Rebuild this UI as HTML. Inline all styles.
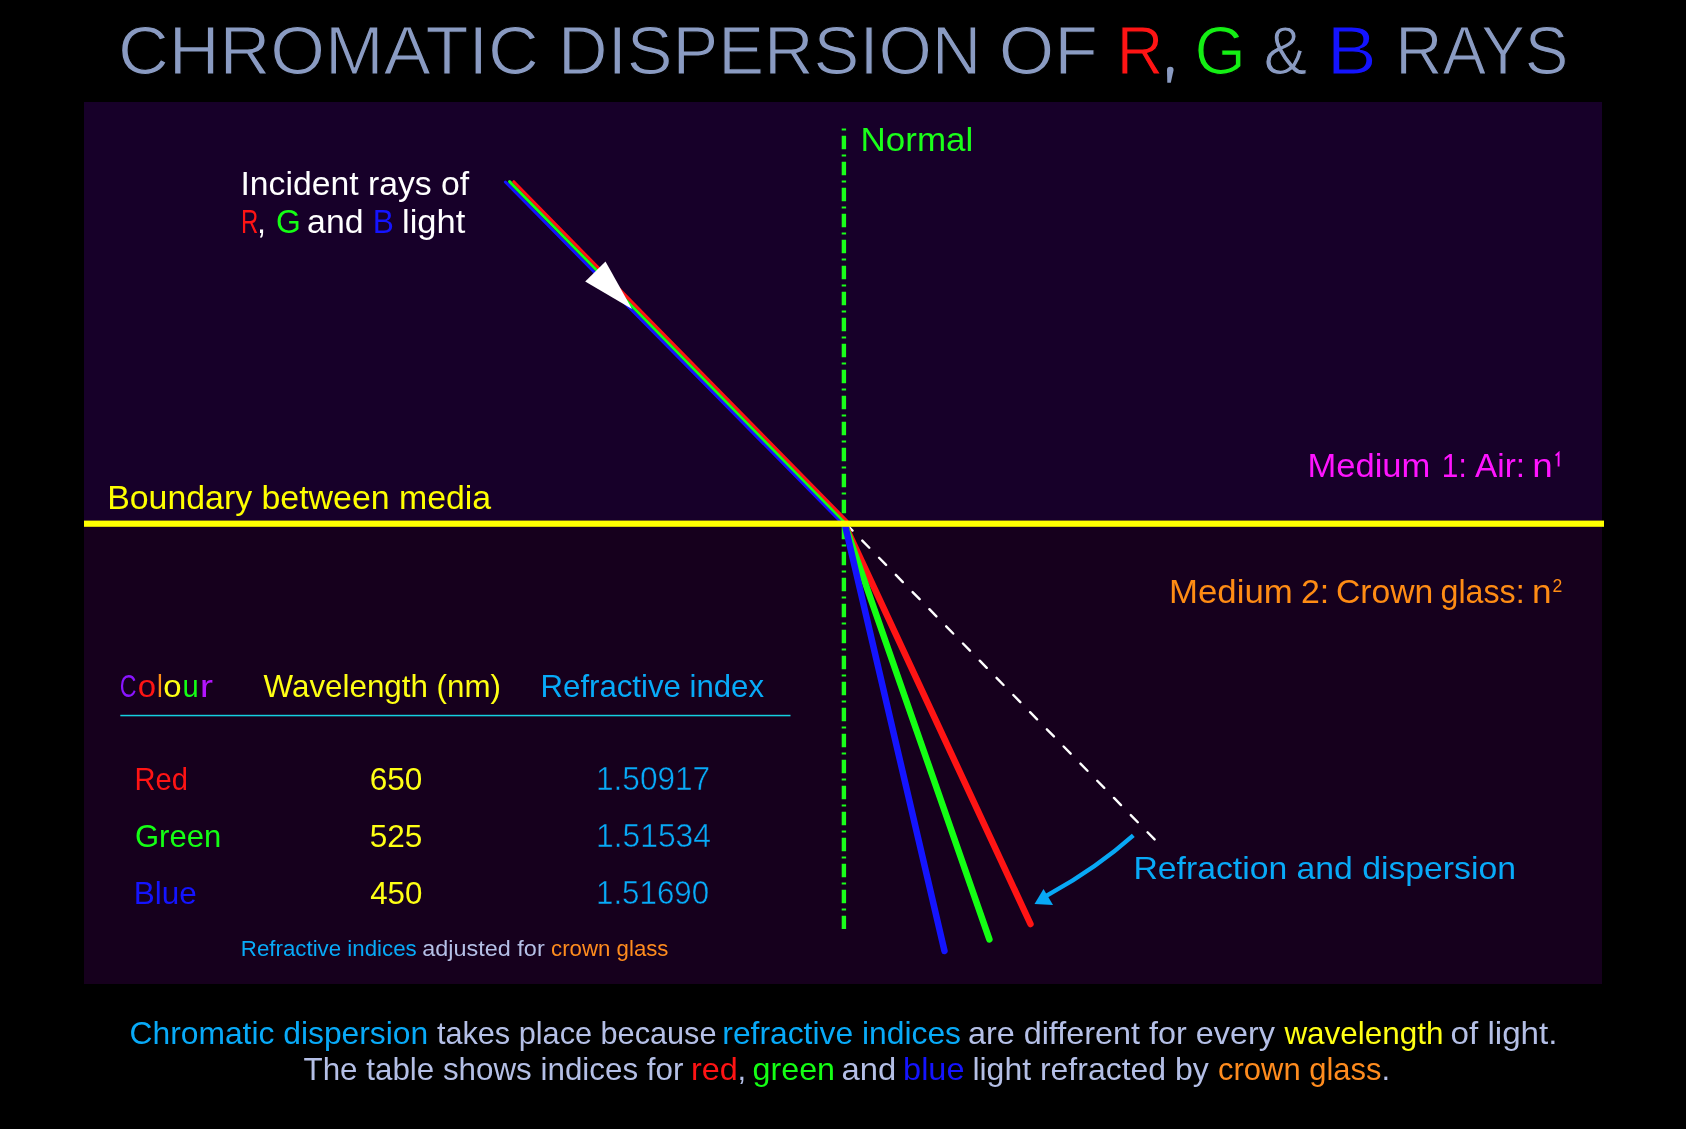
<!DOCTYPE html>
<html><head><meta charset="utf-8">
<style>
html,body{margin:0;padding:0;background:#000;width:1686px;height:1129px;overflow:hidden}
svg{display:block;will-change:transform;font-family:"Liberation Sans",sans-serif}
</style></head>
<body>
<svg width="1686" height="1129" viewBox="0 0 1686 1129">
<rect x="0" y="0" width="1686" height="1129" fill="#000"/>
<rect x="84" y="102" width="1518" height="422" fill="#170029"/>
<rect x="84" y="524" width="1518" height="460" fill="#16001d"/>
<line x1="843.9" y1="128.4" x2="843.9" y2="929" stroke="#1aff1a" stroke-width="4.4" stroke-dasharray="2 5.25 13.5 5.25"/>
<line x1="505.4" y1="182" x2="840" y2="521" stroke="#1414ff" stroke-width="3" stroke-linecap="round"/>
<line x1="509.6" y1="181.6" x2="843.5" y2="521" stroke="#14ff14" stroke-width="3" stroke-linecap="round"/>
<line x1="513.8" y1="181.7" x2="847" y2="521" stroke="#ff1414" stroke-width="3" stroke-linecap="round"/>
<polygon points="605.5,261.5 585.2,281.6 632,308.9" fill="#fff"/>
<line x1="849" y1="527" x2="1157.5" y2="842.4" stroke="#fff" stroke-width="2.4" stroke-linecap="round" stroke-dasharray="10 14" stroke-dashoffset="5"/>
<line x1="845" y1="525" x2="1030.5" y2="924" stroke="#ff1414" stroke-width="6.5" stroke-linecap="round"/>
<line x1="845" y1="525" x2="989.4" y2="939.4" stroke="#14ff14" stroke-width="6.5" stroke-linecap="round"/>
<line x1="845" y1="525" x2="944.5" y2="951" stroke="#1414ff" stroke-width="6.5" stroke-linecap="round"/>
<rect x="84" y="520.6" width="1520" height="6.2" fill="#ffff00"/>
<path d="M1133.3,835.3 C1107.7,858.1 1079.2,877.5 1049.3,894.2 L1045,896.6" fill="none" stroke="#08a8f5" stroke-width="4.3"/>
<polygon points="1034.5,904 1043.5,889 1053,905" fill="#08a8f5"/>
<rect x="120.3" y="714.8" width="670.2" height="1.5" fill="#14d0e0"/>
<path d="M1555.6,455.6 L1558.6,452.9 L1558.6,466.4" fill="none" stroke="#ff14ff" stroke-width="1.9" stroke-linejoin="miter"/>
<path d="M1167,70 A3.3,3.3 0 0 1 1173.6,70 L1170.8,82.8 L1167.3,82.8 Z" fill="#8a9bc2"/>

<text x="117.90" y="73.7" font-size="67.8" fill="#8a9bc2" textLength="420.90" lengthAdjust="spacingAndGlyphs" stroke="#000" stroke-width="1.2">CHROMATIC</text>
<text x="558.10" y="73.7" font-size="67.8" fill="#8a9bc2" textLength="423.30" lengthAdjust="spacingAndGlyphs" stroke="#000" stroke-width="1.2">DISPERSION</text>
<text x="998.70" y="73.7" font-size="67.8" fill="#8a9bc2" textLength="99.00" lengthAdjust="spacingAndGlyphs" stroke="#000" stroke-width="1.2">OF</text>
<text x="1116.60" y="73.7" font-size="67.8" fill="#ff1414" textLength="47.00" lengthAdjust="spacingAndGlyphs" stroke="#000" stroke-width="1.2">R</text>
<text x="1194.60" y="73.7" font-size="67.8" fill="#14f014" textLength="51.40" lengthAdjust="spacingAndGlyphs" stroke="#000" stroke-width="1.2">G</text>
<text x="1263.50" y="73.7" font-size="67.8" fill="#8a9bc2" textLength="43.70" lengthAdjust="spacingAndGlyphs" stroke="#000" stroke-width="1.2">&amp;</text>
<text x="1326.70" y="73.7" font-size="67.8" fill="#1414ff" textLength="50.00" lengthAdjust="spacingAndGlyphs" stroke="#000" stroke-width="1.2">B</text>
<text x="1395.20" y="73.7" font-size="67.8" fill="#8a9bc2" textLength="173.30" lengthAdjust="spacingAndGlyphs" stroke="#000" stroke-width="1.2">RAYS</text>
<text x="240.40" y="194.8" font-size="32.3" fill="#ffffff" textLength="228.80" lengthAdjust="spacingAndGlyphs">Incident rays of</text>
<text x="860.60" y="151.0" font-size="33" fill="#1aff1a" textLength="112.70" lengthAdjust="spacingAndGlyphs">Normal</text>
<text x="107.20" y="509.4" font-size="33" fill="#ffff00" textLength="384.00" lengthAdjust="spacingAndGlyphs">Boundary between media</text>
<text x="1552.50" y="592.3" font-size="18.6" fill="#ff8c14" textLength="9.80" lengthAdjust="spacingAndGlyphs">2</text>
<text x="263.60" y="697" font-size="31.5" fill="#ffff14" textLength="237.40" lengthAdjust="spacingAndGlyphs">Wavelength (nm)</text>
<text x="540.60" y="697" font-size="31.5" fill="#08aaf8" textLength="223.40" lengthAdjust="spacingAndGlyphs">Refractive index</text>
<text x="134.60" y="789.9" font-size="31.5" fill="#ff1414" textLength="53.40" lengthAdjust="spacingAndGlyphs">Red</text>
<text x="135.00" y="846.9" font-size="31.5" fill="#14ff14" textLength="86.20" lengthAdjust="spacingAndGlyphs">Green</text>
<text x="133.80" y="903.6" font-size="31.5" fill="#1414ff" textLength="63.00" lengthAdjust="spacingAndGlyphs">Blue</text>
<text x="369.80" y="789.9" font-size="31.5" fill="#ffff14" textLength="52.60" lengthAdjust="spacingAndGlyphs">650</text>
<text x="369.80" y="846.9" font-size="31.5" fill="#ffff14" textLength="52.60" lengthAdjust="spacingAndGlyphs">525</text>
<text x="370.20" y="903.6" font-size="31.5" fill="#ffff14" textLength="52.20" lengthAdjust="spacingAndGlyphs">450</text>
<text x="596.00" y="790.4" font-size="32.5" fill="#08aaf8" textLength="114.10" lengthAdjust="spacingAndGlyphs" stroke="#16001d" stroke-width="0.5">1.50917</text>
<text x="596.00" y="847.1" font-size="32.5" fill="#08aaf8" textLength="115.00" lengthAdjust="spacingAndGlyphs" stroke="#16001d" stroke-width="0.5">1.51534</text>
<text x="596.00" y="903.8" font-size="32.5" fill="#08aaf8" textLength="113.10" lengthAdjust="spacingAndGlyphs" stroke="#16001d" stroke-width="0.5">1.51690</text>
<text x="1133.40" y="879.4" font-size="32.2" fill="#08aaf8" textLength="382.60" lengthAdjust="spacingAndGlyphs">Refraction and dispersion</text>
<text x="129.50" y="1044.2" font-size="31.1" fill="#08aaf8" textLength="298.70" lengthAdjust="spacingAndGlyphs">Chromatic dispersion</text>
<text x="436.90" y="1044.2" font-size="31.1" fill="#b4bfe6" textLength="279.60" lengthAdjust="spacingAndGlyphs">takes place because</text>
<text x="722.30" y="1044.2" font-size="31.1" fill="#08aaf8" textLength="238.70" lengthAdjust="spacingAndGlyphs">refractive indices</text>
<text x="967.90" y="1044.2" font-size="31.1" fill="#b4bfe6" textLength="307.10" lengthAdjust="spacingAndGlyphs">are different for every</text>
<text x="1284.40" y="1044.2" font-size="31.1" fill="#ffff14" textLength="159.20" lengthAdjust="spacingAndGlyphs">wavelength</text>
<text x="1450.50" y="1044.2" font-size="31.1" fill="#b4bfe6" textLength="107.00" lengthAdjust="spacingAndGlyphs">of light.</text>
<text x="303.50" y="1080.0" font-size="31.1" fill="#b4bfe6" textLength="379.90" lengthAdjust="spacingAndGlyphs">The table shows indices for</text>
<text x="691.00" y="1080.0" font-size="31.1" fill="#ff1414" textLength="46.80" lengthAdjust="spacingAndGlyphs">red</text>
<text x="737.40" y="1080.0" font-size="31.1" fill="#b4bfe6">,</text>
<text x="752.60" y="1080.0" font-size="31.1" fill="#14ff14" textLength="82.40" lengthAdjust="spacingAndGlyphs">green</text>
<text x="841.50" y="1080.0" font-size="31.1" fill="#b4bfe6" textLength="54.70" lengthAdjust="spacingAndGlyphs">and</text>
<text x="903.10" y="1080.0" font-size="31.1" fill="#1414ff" textLength="61.40" lengthAdjust="spacingAndGlyphs">blue</text>
<text x="972.40" y="1080.0" font-size="31.1" fill="#b4bfe6" textLength="236.40" lengthAdjust="spacingAndGlyphs">light refracted by</text>
<text x="1218.10" y="1080.0" font-size="31.1" fill="#ff8c1e" textLength="163.40" lengthAdjust="spacingAndGlyphs">crown glass</text>
<text x="1381.50" y="1080.0" font-size="31.1" fill="#b4bfe6">.</text>
<text x="240.80" y="955.7" font-size="21.4" fill="#08aaf8" textLength="175.90" lengthAdjust="spacingAndGlyphs">Refractive indices</text>
<text x="422.30" y="955.7" font-size="21.4" fill="#b4bfe6" textLength="122.40" lengthAdjust="spacingAndGlyphs">adjusted for</text>
<text x="551.10" y="955.7" font-size="21.4" fill="#ff8c1e" textLength="117.40" lengthAdjust="spacingAndGlyphs">crown glass</text>
<text x="241.10" y="233.4" font-size="32.3" fill="#ff1414" textLength="17.30" lengthAdjust="spacingAndGlyphs">R</text>
<text x="256.90" y="233.4" font-size="32.3" fill="#ffffff">,</text>
<text x="275.90" y="233.4" font-size="32.3" fill="#14ff14" textLength="24.80" lengthAdjust="spacingAndGlyphs">G</text>
<text x="307.10" y="233.4" font-size="32.3" fill="#ffffff" textLength="56.40" lengthAdjust="spacingAndGlyphs">and</text>
<text x="372.80" y="233.4" font-size="32.3" fill="#1414ff" textLength="21.10" lengthAdjust="spacingAndGlyphs">B</text>
<text x="402.00" y="233.4" font-size="32.3" fill="#ffffff" textLength="63.30" lengthAdjust="spacingAndGlyphs">light</text>
<text x="119.80" y="697" font-size="31.5" fill="#8a14ff" textLength="16.70" lengthAdjust="spacingAndGlyphs">C</text>
<text x="137.70" y="697" font-size="31.5" fill="#ff1414" textLength="18.30" lengthAdjust="spacingAndGlyphs">o</text>
<text x="156.90" y="697" font-size="31.5" fill="#ff8c14" textLength="5.80" lengthAdjust="spacingAndGlyphs">l</text>
<text x="163.30" y="697" font-size="31.5" fill="#ffff14" textLength="18.30" lengthAdjust="spacingAndGlyphs">o</text>
<text x="182.50" y="697" font-size="31.5" fill="#14ff14" textLength="16.20" lengthAdjust="spacingAndGlyphs">u</text>
<text x="199.70" y="697" font-size="31.5" fill="#b414ff" textLength="13.30" lengthAdjust="spacingAndGlyphs">r</text>
<text x="1307.40" y="476.5" font-size="33" fill="#ff14ff" textLength="123.00" lengthAdjust="spacingAndGlyphs">Medium</text>
<text x="1441.80" y="476.5" font-size="33" fill="#ff14ff" textLength="24.90" lengthAdjust="spacingAndGlyphs">1:</text>
<text x="1475.10" y="476.5" font-size="33" fill="#ff14ff" textLength="50.00" lengthAdjust="spacingAndGlyphs">Air:</text>
<text x="1532.30" y="476.5" font-size="33" fill="#ff14ff" textLength="20.50" lengthAdjust="spacingAndGlyphs">n</text>
<text x="1169.00" y="602.7" font-size="33" fill="#ff8c14" textLength="123.80" lengthAdjust="spacingAndGlyphs">Medium</text>
<text x="1300.90" y="602.7" font-size="33" fill="#ff8c14" textLength="28.30" lengthAdjust="spacingAndGlyphs">2:</text>
<text x="1335.90" y="602.7" font-size="33" fill="#ff8c14" textLength="97.40" lengthAdjust="spacingAndGlyphs">Crown</text>
<text x="1440.60" y="602.7" font-size="33" fill="#ff8c14" textLength="84.00" lengthAdjust="spacingAndGlyphs">glass:</text>
<text x="1532.10" y="602.7" font-size="33" fill="#ff8c14" textLength="19.60" lengthAdjust="spacingAndGlyphs">n</text>
</svg>
</body></html>
